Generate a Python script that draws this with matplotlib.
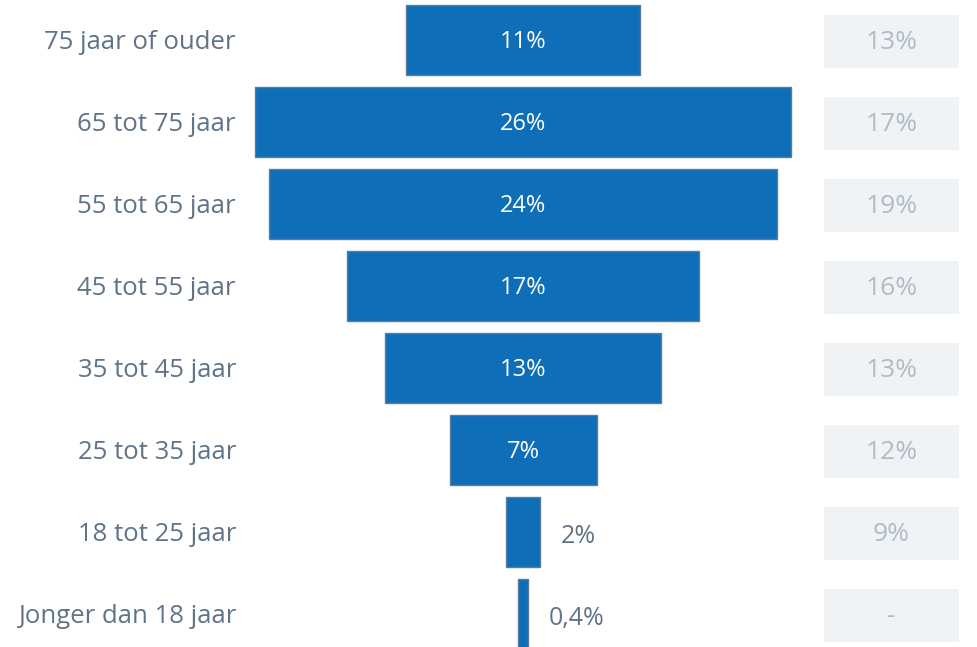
import matplotlib
matplotlib.use("Agg")
import matplotlib.pyplot as plt
from matplotlib.patches import Rectangle
from matplotlib.transforms import blended_transform_factory

categories = ["75 jaar of ouder", "65 tot 75 jaar", "55 tot 65 jaar", "45 tot 55 jaar",
              "35 tot 45 jaar", "25 tot 35 jaar", "18 tot 25 jaar", "Jonger dan 18 jaar"]
values = [11.3, 25.9, 24.5, 17.0, 13.3, 7.1, 1.6, 0.45]
value_labels = ["11%", "26%", "24%", "17%", "13%", "7%", "2%", "0,4%"]
compare_labels = ["13%", "17%", "19%", "16%", "13%", "12%", "9%", "-"]

BAR = "#0E6FB8"
EDGE = "#5B7C9C"
LABEL = "#5F7389"
CMP_BG = "#EFF3F6"
CMP_TXT = "#B0BBC6"

plt.rcParams["font.family"] = ["Open Sans", "DejaVu Sans"]

fig = plt.figure(figsize=(9.78, 6.47), dpi=100)
ax = fig.add_axes([0, 0, 1, 1])
ax.set_xlim(-25.27, 21.98)
ax.set_ylim(7.402, -0.488)
ax.axis("off")

ys = list(range(len(categories)))
ax.barh(ys, values, left=[-v / 2 for v in values], height=0.85,
        color=BAR, edgecolor=EDGE, linewidth=1)

# left labels and right comparison boxes sit at fixed fractions of the width
tr = blended_transform_factory(ax.transAxes, ax.transData)
dy = 0.03
for y, cat, v, vl, cl in zip(ys, categories, values, value_labels, compare_labels):
    ax.text(0.2413, y + dy, cat, transform=tr, ha="right", va="center",
            fontsize=18.5, color=LABEL)
    if v > 5:
        ax.text(0, y + dy, vl, ha="center", va="center", fontsize=17, color="white")
    else:
        ax.text(v / 2 + 1.0, y + dy + 0.03, vl, ha="left", va="center", fontsize=18, color=LABEL)
    ax.add_patch(Rectangle((0.8425, y - 0.323 + 0.02), 0.1381, 0.646, transform=tr,
                           facecolor=CMP_BG, edgecolor="none"))
    ax.text(0.9115, y + dy, cl, transform=tr, ha="center", va="center",
            fontsize=19, color=CMP_TXT)

fig.savefig("out.png", dpi=100)
